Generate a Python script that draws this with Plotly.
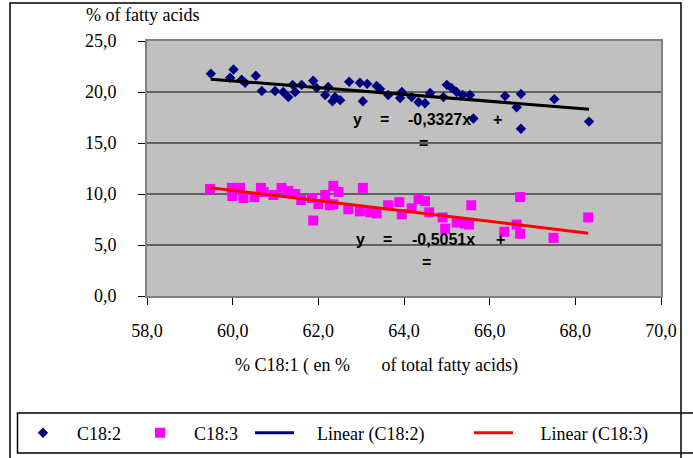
import plotly.graph_objects as go

# ---------------- data ----------------
c182_x = [59.49, 60.02, 59.94, 60.21, 60.29, 60.54, 60.68, 60.99, 61.18, 61.30,
          61.40, 61.46, 61.61, 61.88, 61.96, 62.16, 62.23, 62.33, 62.39, 62.51,
          62.72, 62.97, 63.04, 63.14, 63.36, 63.44, 63.63, 63.95, 63.91, 64.18,
          64.34, 64.49, 64.61, 64.92, 65.00, 65.11, 65.23, 65.37, 65.54, 65.62,
          66.36, 66.73, 66.63, 66.73, 67.51, 68.32]
c182_y = [21.8, 22.2, 21.4, 21.2, 20.9, 21.6, 20.1, 20.1, 20.0, 19.5,
          20.7, 20.0, 20.7, 21.1, 20.4, 19.7, 20.5, 19.1, 19.5, 19.2,
          21.0, 20.9, 19.1, 20.8, 20.6, 20.3, 19.7, 20.0, 19.4, 19.5,
          19.0, 18.9, 19.9, 19.5, 20.7, 20.4, 20.0, 19.7, 19.7, 17.4,
          19.6, 19.8, 18.5, 16.4, 19.3, 17.1]

c183_x = [59.47, 59.98, 59.99, 60.17, 60.25, 60.51, 60.66, 60.72, 60.95, 61.14,
          61.30, 61.46, 61.60, 61.85, 61.88, 62.00, 62.16, 62.27, 62.35, 62.47,
          62.35, 63.04, 62.70, 62.97, 63.21, 63.36, 63.63, 63.89, 63.95, 64.18,
          64.34, 64.49, 64.59, 64.90, 64.96, 65.23, 65.42, 65.57, 65.52, 66.34,
          66.63, 66.71, 66.71, 67.49, 68.30]
c183_y = [10.5, 10.6, 9.8, 10.6, 9.6, 9.7, 10.6, 10.2, 9.9, 10.6,
          10.3, 10.0, 9.4, 9.6, 7.4, 9.0, 9.9, 8.9, 10.8, 10.2,
          9.0, 10.6, 8.5, 8.3, 8.2, 8.1, 8.9, 9.2, 8.0, 8.6,
          9.5, 9.3, 8.2, 7.7, 6.6, 7.2, 7.1, 8.9, 7.0, 6.3,
          7.0, 6.1, 9.7, 5.7, 7.7]

trend182_slope = -0.3327
trend182_intercept = 41.05
trend183_slope = -0.5051
trend183_intercept = 40.66

x_ticks = [58, 60, 62, 64, 66, 68, 70]
y_ticks = [0, 5, 10, 15, 20, 25]

series_names = ["C18:2", "C18:3", "Linear (C18:2)", "Linear (C18:3)"]
eq1_slope_text = "-0,3327x"
eq2_slope_text = "-0,5051x"
y_title = "% of fatty acids"
x_title = "% C18:1 ( en %" + "\u00a0" * 7 + "of total fatty acids)"

# ---------------- layout helpers ----------------
W, H = 693, 458
ML, MR, MT, MB = 147, 32, 41, 162
PW, PH = W - ML - MR, H - MT - MB


def px(x):
    return (x - ML) / PW


def py(y):
    return (H - MB - y) / PH


SERIF = "Liberation Serif"
SANS = "Liberation Sans"
NB = "\u00a0"

fig = go.Figure()

fig.add_trace(go.Scatter(
    x=c182_x, y=c182_y, mode="markers", name=series_names[0],
    marker=dict(symbol="diamond", size=8, color="#000080"),
    legend="legend"))
fig.add_trace(go.Scatter(
    x=c183_x, y=c183_y, mode="markers", name=series_names[1],
    marker=dict(symbol="square", size=10, color="#FF00FF"),
    legend="legend2"))

# trend lines
x182 = [min(c182_x), max(c182_x)]
fig.add_trace(go.Scatter(
    x=x182, y=[trend182_intercept + trend182_slope * v for v in x182],
    mode="lines", line=dict(color="#000000", width=3), showlegend=False,
    hoverinfo="skip"))
fig.add_trace(go.Scatter(
    x=[None], y=[None], mode="lines", name=NB * 4 + series_names[2],
    line=dict(color="#000080", width=3), legend="legend3"))
x183 = [min(c183_x), max(c183_x)]
fig.add_trace(go.Scatter(
    x=x183, y=[trend183_intercept + trend183_slope * v for v in x183],
    mode="lines", name=NB * 5 + series_names[3],
    line=dict(color="#FF0000", width=3), legend="legend4"))

legend_common = dict(
    orientation="h", xref="paper", yref="paper", xanchor="left",
    yanchor="middle", y=py(433), bgcolor="rgba(0,0,0,0)", borderwidth=0,
    font=dict(family=SERIF, size=18, color="#000000"))

fig.update_layout(
    width=W, height=H,
    margin=dict(l=ML, r=MR, t=MT, b=MB, pad=0, autoexpand=False),
    paper_bgcolor="#FFFFFF", plot_bgcolor="#C0C0C0",
    separators=",.",
    font=dict(family=SERIF, size=18, color="#000000"),
    legend=dict(legend_common, x=px(9), itemwidth=58),
    legend2=dict(legend_common, x=px(126), itemwidth=58),
    legend3=dict(legend_common, x=px(250), itemwidth=39),
    legend4=dict(legend_common, x=px(469), itemwidth=39),
    xaxis=dict(range=[58, 70], tickvals=x_ticks, tickformat=".1f",
               showgrid=False, zeroline=False, ticks="outside", ticklen=7,
               tickcolor="#000000", tickwidth=1, showline=True,
               linecolor="#808080", linewidth=2, mirror=True,
               ticklabelstandoff=10, automargin=False,
               tickfont=dict(family=SERIF, size=18, color="#000000")),
    yaxis=dict(range=[0, 25], tickvals=y_ticks, tickformat=".1f",
               showgrid=True, gridcolor="#606060", gridwidth=1.5,
               zeroline=False, ticks="outside", ticklen=7,
               tickcolor="#000000", tickwidth=1, showline=True,
               linecolor="#808080", linewidth=2, mirror=True,
               ticklabelstandoff=18, automargin=False,
               tickfont=dict(family=SERIF, size=18, color="#000000")),
)

# outer chart border and legend box
fig.add_shape(type="rect", xref="paper", yref="paper",
              x0=px(10), x1=px(681), y0=py(3), y1=py(475),
              line=dict(color="#000000", width=1.5), fillcolor="rgba(0,0,0,0)")
fig.add_shape(type="rect", xref="paper", yref="paper",
              x0=px(17.5), x1=px(705), y0=py(413), y1=py(453),
              line=dict(color="#000000", width=1.5), fillcolor="rgba(0,0,0,0)")

annotations = []
annotations.append(dict(text=y_title, x=px(84), y=py(15), xanchor="left",
                        yanchor="middle", font=dict(family=SERIF, size=18)))
annotations.append(dict(text=x_title, x=px(233), y=py(365), xanchor="left",
                        yanchor="middle", font=dict(family=SERIF, size=18)))

eq_font = dict(family=SANS, size=16, color="#000000", weight="bold")
for (tok, cx, cy, anc) in [
        ("y", 357, 119, "center"), ("=", 384, 119, "center"),
        (eq1_slope_text, 406, 119, "left"), ("+", 497, 119, "center"),
        ("=", 423, 143, "center"),
        ("y", 360, 239, "center"), ("=", 387, 239, "center"),
        (eq2_slope_text, 410, 239, "left"), ("+", 500, 239, "center"),
        ("=", 426, 262, "center")]:
    annotations.append(dict(text=tok, x=px(cx), y=py(cy), xanchor=anc,
                            yanchor="middle", font=eq_font))

for a in annotations:
    a.update(xref="paper", yref="paper", showarrow=False)
fig.update_layout(annotations=annotations)

fig.write_html(
    "out.html",
    config={"displayModeBar": False},
    post_script="document.body.style.margin='0';"
                "document.body.style.overflow='hidden';")
